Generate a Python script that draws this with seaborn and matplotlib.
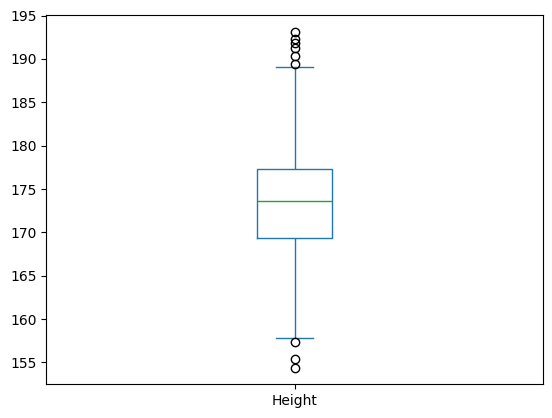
import numpy as np
import pandas as pd
import matplotlib; matplotlib.use("Agg")
import matplotlib.pyplot as plt
import seaborn as sns

# heights (outliers, whisker ends, quartiles, median)
LOW_OUTLIERS  = [154.4, 155.4, 157.4]
LOW_TAIL      = [157.8, 161.5, 164.2, 166.9]
LOWER_HALF    = [169.4, 170.1, 170.8, 171.5, 172.2, 172.7, 173.1]
MEDIAN        = [173.6]
UPPER_HALF    = [174.2, 174.8, 175.4, 176.0, 176.5, 176.9, 177.3]
HIGH_TAIL     = [189.1]
HIGH_OUTLIERS = [189.4, 190.3, 191.3, 191.8, 192.3, 193.1]

heights = LOW_OUTLIERS + LOW_TAIL + LOWER_HALF + MEDIAN + UPPER_HALF + HIGH_TAIL + HIGH_OUTLIERS
df = pd.DataFrame({"Height": heights})

fig, ax = plt.subplots(figsize=(5.52, 4.18), dpi=100)
fig.subplots_adjust(left=0.0839, right=0.9832, top=0.9634, bottom=0.0806)

blue = "#1f77b4"
green = "#2ca02c"
sns.boxplot(data=df, ax=ax, width=0.15, fill=False, color=blue, linecolor=blue,
            saturation=1, linewidth=1.0, whis=1.5,
            medianprops={"color": green},
            flierprops={"marker": "o", "markerfacecolor": "none",
                        "markeredgecolor": "black", "markersize": 6})

# pandas-like colouring: blue box/whiskers/caps, green median
for ln in ax.lines:
    if ln.get_marker() == "o":
        continue
    if ln.get_color() == green:
        continue
    ln.set_color(blue)
for p in ax.patches:
    p.set_edgecolor(blue)

ax.set_xlabel("")
ax.set_ylabel("")
ax.set_xlim(-0.5, 0.5)
ax.set_ylim(152.47, 195.04)

plt.savefig("out.png", dpi=100)
plt.close()
